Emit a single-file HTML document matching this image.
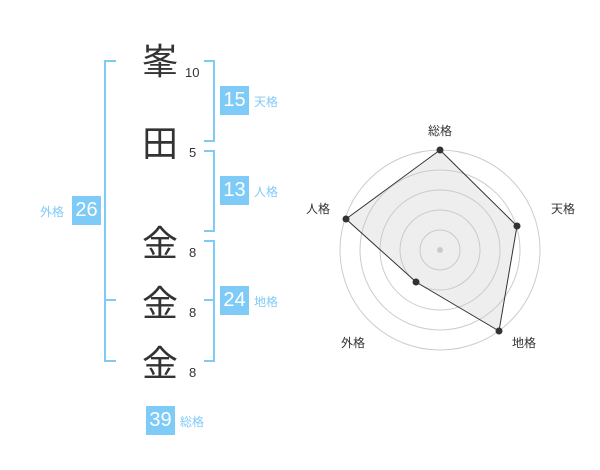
<!DOCTYPE html>
<html><head><meta charset="utf-8"><style>
body{margin:0;width:600px;height:470px;background:#fff;position:relative;overflow:hidden;font-family:"Liberation Sans","Noto Sans CJK JP",sans-serif}
.k{position:absolute;width:40px;text-align:center;font-size:36px;line-height:40px;color:#333;left:140px}
.n{position:absolute;font-size:13px;color:#333;line-height:14px}
.b{position:absolute;width:29px;height:29px;background:#7fcbf7;color:#fff;font-size:20px;line-height:29px;text-align:center}
.l{position:absolute;font-size:12px;color:#7fcbf7;line-height:14px}
.v{position:absolute;border:2px solid #7fcbf7}
</style></head><body>
<div class="k" style="top:42px">峯</div>
<div class="k" style="top:124px">田</div>
<div class="k" style="top:224px">金</div>
<div class="k" style="top:284px">金</div>
<div class="k" style="top:344px">金</div>
<div class="n" style="left:185px;top:66px">10</div>
<div class="n" style="left:189px;top:146px">5</div>
<div class="n" style="left:189px;top:246px">8</div>
<div class="n" style="left:189px;top:306px">8</div>
<div class="n" style="left:189px;top:366px">8</div>
<div class="v" style="left:104px;top:60px;width:10px;height:298px;border-right:none"></div>
<div style="position:absolute;left:104px;top:299px;width:12px;height:2px;background:#7fcbf7"></div>
<div class="v" style="left:204px;top:60px;width:9px;height:78px;border-left:none"></div>
<div class="v" style="left:204px;top:150px;width:9px;height:78px;border-left:none"></div>
<div class="v" style="left:204px;top:240px;width:9px;height:118px;border-left:none"></div>
<div style="position:absolute;left:204px;top:299px;width:10px;height:2px;background:#7fcbf7"></div>
<div class="b" style="left:220px;top:86px">15</div><div class="l" style="left:254px;top:95px">天格</div>
<div class="b" style="left:220px;top:176px">13</div><div class="l" style="left:254px;top:185px">人格</div>
<div class="b" style="left:220px;top:286px">24</div><div class="l" style="left:254px;top:295px">地格</div>
<div class="b" style="left:72px;top:196px">26</div><div class="l" style="left:40px;top:205px">外格</div>
<div class="b" style="left:146px;top:406px">39</div><div class="l" style="left:180px;top:415px">総格</div>
<svg style="position:absolute;left:0;top:0" width="600" height="470">
<g fill="none" stroke="#ccc" stroke-width="1">
<circle cx="440" cy="250" r="100"/><circle cx="440" cy="250" r="80"/><circle cx="440" cy="250" r="60"/><circle cx="440" cy="250" r="40"/><circle cx="440" cy="250" r="20"/>
</g>
<circle cx="440" cy="250" r="3" fill="#ccc"/>
<polygon points="440,150 517,226 499,331 416,282 346,219" fill="rgba(200,200,200,0.3)" stroke="#333" stroke-width="1"/>
<g fill="#333"><circle cx="440" cy="150" r="3.5"/><circle cx="517" cy="226" r="3.5"/><circle cx="499" cy="331" r="3.5"/><circle cx="416" cy="282" r="3.5"/><circle cx="346" cy="219" r="3.5"/></g>
<g font-size="12" fill="#333" text-anchor="middle" font-family="Liberation Sans,Noto Sans CJK JP,sans-serif">
<text x="440" y="135">総格</text><text x="563" y="213">天格</text><text x="524" y="347">地格</text><text x="353" y="347">外格</text><text x="318" y="213">人格</text>
</g>
</svg>
</body></html>
